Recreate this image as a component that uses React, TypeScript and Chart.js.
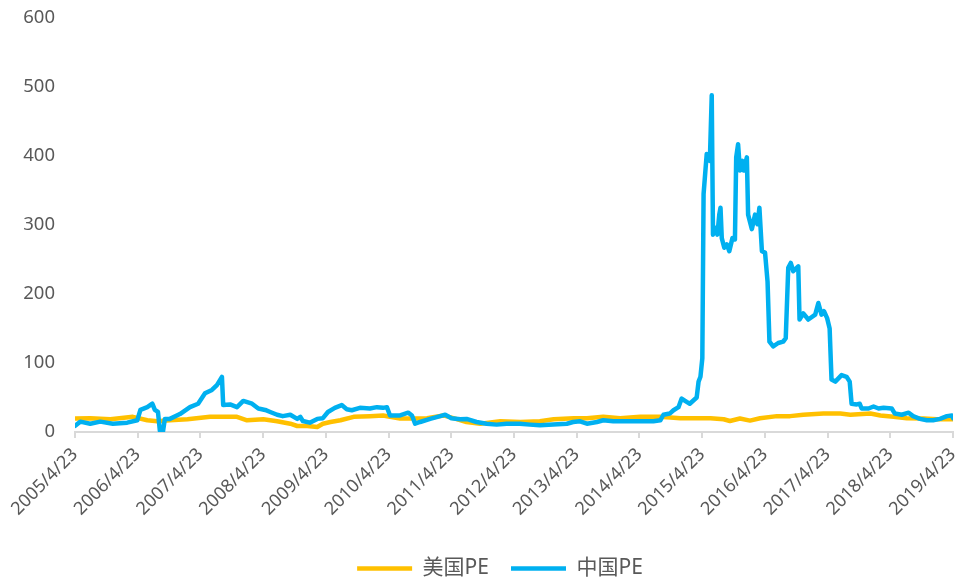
import { useEffect, useRef } from "react";
import { Chart, registerables } from "chart.js";

Chart.register(...registerables);

// 2005/4/23 expressed as a decimal year; ticks fall on every April 23rd.
const APRIL_23 = 0.307;
const tickYears = [2005, 2006, 2007, 2008, 2009, 2010, 2011, 2012, 2013, 2014, 2015, 2016, 2017, 2018, 2019];

const usLabel = "美国PE";
const usYears = [
  2005.31, 2005.55, 2005.87, 2006.23, 2006.46, 2006.62, 2006.82, 2007.10, 2007.46, 2007.89,
  2008.05, 2008.31, 2008.53, 2008.74, 2008.85, 2009.01, 2009.17, 2009.26, 2009.38, 2009.54,
  2009.75, 2010.01, 2010.22, 2010.33, 2010.49, 2010.70, 2010.92, 2011.18, 2011.34, 2011.55,
  2011.77, 2012.09, 2012.41, 2012.72, 2012.94, 2013.26, 2013.47, 2013.73, 2014.00, 2014.32,
  2014.64, 2014.96, 2015.28, 2015.44, 2015.65, 2015.75, 2015.91, 2016.07, 2016.23, 2016.50,
  2016.71, 2016.92, 2017.24, 2017.51, 2017.67, 2017.99, 2018.15, 2018.36, 2018.57, 2018.84,
  2019.05, 2019.31,
];
const usPE = [
  19.5, 20, 18.5, 22, 17, 15.5, 17, 18.5, 22, 22,
  17, 18.5, 15.5, 12, 8.7, 8.7, 7.3, 12, 14.5, 17,
  22, 23, 24, 22, 19.5, 19.5, 20, 24, 20, 14.5,
  12, 15.5, 14.5, 15.5, 18.5, 20, 20, 22, 20, 22,
  22, 20, 20, 20, 18.5, 16, 19.5, 16.5, 20, 23,
  23, 25, 26.7, 26.7, 25, 26.7, 24, 22, 20, 19.5,
  18.5, 18.5,
];

const cnLabel = "中国PE";
const cnYears = [
  2005.31, 2005.39, 2005.55, 2005.71, 2005.91, 2006.14, 2006.30, 2006.35, 2006.46, 2006.54,
  2006.58, 2006.63, 2006.66, 2006.71, 2006.74, 2006.82, 2006.98, 2007.14, 2007.27, 2007.38,
  2007.49, 2007.57, 2007.65, 2007.67, 2007.78, 2007.89, 2007.99, 2008.13, 2008.23, 2008.34,
  2008.42, 2008.53, 2008.62, 2008.74, 2008.85, 2008.90, 2008.94, 2009.05, 2009.17, 2009.26,
  2009.34, 2009.45, 2009.56, 2009.64, 2009.72, 2009.85, 2010.01, 2010.12, 2010.22, 2010.28,
  2010.33, 2010.49, 2010.62, 2010.68, 2010.73, 2010.81, 2010.97, 2011.13, 2011.21, 2011.31,
  2011.45, 2011.55, 2011.71, 2011.87, 2012.03, 2012.19, 2012.40, 2012.56, 2012.72, 2012.93,
  2013.15, 2013.25, 2013.36, 2013.47, 2013.63, 2013.73, 2013.89, 2014.10, 2014.32, 2014.53,
  2014.64, 2014.69, 2014.79, 2014.85, 2014.93, 2014.98, 2015.06, 2015.11, 2015.22, 2015.25,
  2015.28, 2015.31, 2015.33, 2015.38, 2015.43, 2015.46, 2015.48, 2015.53, 2015.55, 2015.58,
  2015.60, 2015.62, 2015.66, 2015.70, 2015.74, 2015.79, 2015.83, 2015.85, 2015.88, 2015.91,
  2015.95, 2015.97, 2016.02, 2016.04, 2016.10, 2016.15, 2016.19, 2016.22, 2016.26, 2016.31,
  2016.35, 2016.38, 2016.44, 2016.52, 2016.60, 2016.64, 2016.68, 2016.72, 2016.76, 2016.84,
  2016.86, 2016.92, 2017.00, 2017.11, 2017.16, 2017.21, 2017.25, 2017.30, 2017.34, 2017.36,
  2017.37, 2017.43, 2017.53, 2017.61, 2017.66, 2017.69, 2017.77, 2017.82, 2017.85, 2017.96,
  2018.04, 2018.12, 2018.20, 2018.33, 2018.38, 2018.49, 2018.60, 2018.67, 2018.78, 2018.89,
  2018.99, 2019.10, 2019.21, 2019.29, 2019.31,
];
const cnPE = [
  9, 15, 12, 15, 12, 13.5, 17, 32, 36, 41,
  32, 29, 2, 1, 19, 19, 26, 36, 41, 56,
  61, 68, 80, 39, 40, 36, 45, 41, 34, 32,
  29, 25, 23, 25, 19, 22, 16, 13.5, 19, 20,
  29, 35, 39, 33, 31.5, 35, 34, 36, 35, 36,
  24, 24, 28, 24, 12, 14.5, 19, 23, 25, 20,
  18.5, 19, 14.5, 12, 10.7, 12, 12, 10.7, 9.7, 10.7,
  12, 14.5, 15.5, 12, 14.5, 17, 15.5, 15.5, 15.5, 15.5,
  17, 25, 26.7, 31.5, 36, 48.5, 43.7, 41, 50, 73,
  80, 107, 345, 403, 393, 488, 286, 296, 286, 315,
  325, 281, 267, 272, 262, 281, 279, 398, 417, 379,
  393, 379, 398, 315, 294, 315, 301, 325, 262, 260,
  218, 131, 124, 129, 131, 136, 238, 245, 233, 240,
  163, 172, 163, 170, 187, 170, 175, 165, 150, 100,
  76, 73, 82.5, 80, 73, 41, 40, 41, 34, 34,
  37, 34, 35, 34, 26.7, 25, 28, 23, 19, 17,
  17, 19, 23, 24, 20,
];

const FONT = '"Noto Sans", "Noto Sans CJK SC", sans-serif';
const TEXT = "#595959";
const AXIS = "#D9D9D9";

// Nudges the bottom legend a little to the right of the canvas centre.
const legendShift = {
  id: "legendShift",
  afterLayout(chart: any) {
    if (chart.legend) chart.legend.left += 47;
  },
};

export default function App() {
  const canvasRef = useRef<HTMLCanvasElement | null>(null);

  useEffect(() => {
    const canvas = canvasRef.current;
    if (!canvas) return;
    const chart = new Chart(canvas, {
      type: "line",
      data: {
        datasets: [
          {
            label: usLabel,
            data: usYears.map((x, i) => ({ x, y: usPE[i] })),
            borderColor: "#FFC000",
            backgroundColor: "#FFC000",
            borderWidth: 4.5,
            borderCapStyle: "round",
            borderJoinStyle: "round",
            pointRadius: 0,
            order: 1,
          },
          {
            label: cnLabel,
            data: cnYears.map((x, i) => ({ x, y: cnPE[i] })),
            borderColor: "#00B0F0",
            backgroundColor: "#00B0F0",
            borderWidth: 4.5,
            borderCapStyle: "round",
            borderJoinStyle: "round",
            pointRadius: 0,
            order: 0,
          },
        ],
      },
      plugins: [legendShift],
      options: {
        animation: false,
        responsive: false,
        layout: { padding: { top: 18, right: 5, bottom: -12, left: 0 } },
        plugins: {
          tooltip: { enabled: false },
          legend: {
            position: "bottom",
            labels: {
              usePointStyle: true,
              pointStyle: "line",
              pointStyleWidth: 55,
              color: TEXT,
              padding: 22,
              font: { family: FONT, size: 21 },
              sort: (a: any, b: any) => a.datasetIndex - b.datasetIndex,
            },
          },
        },
        scales: {
          x: {
            type: "linear",
            min: tickYears[0] + APRIL_23,
            max: tickYears[tickYears.length - 1] + APRIL_23,
            afterBuildTicks: (scale: any) => {
              scale.ticks = tickYears.map((y) => ({ value: y + APRIL_23 }));
            },
            afterFit: (scale: any) => {
              scale.height = 104;
              scale.paddingLeft = 0;
              scale.paddingRight = 0;
            },
            ticks: {
              autoSkip: false,
              minRotation: 45,
              maxRotation: 45,
              color: TEXT,
              padding: 6,
              font: { family: FONT, size: 18 },
              callback: (v: any) => `${Math.round(Number(v) - APRIL_23)}/4/23`,
            },
            grid: { drawOnChartArea: false, drawTicks: true, tickLength: 6, color: AXIS, lineWidth: 2 },
            border: { display: true, color: AXIS, width: 2 },
          },
          y: {
            min: 0,
            max: 600,
            afterFit: (scale: any) => {
              scale.width = 75;
              scale.paddingTop = 0;
              scale.paddingBottom = 0;
            },
            ticks: {
              stepSize: 100,
              color: TEXT,
              padding: 20,
              font: { family: FONT, size: 18.5 },
            },
            grid: { display: false, drawTicks: false },
            border: { display: false },
          },
        },
      },
    });
    return () => chart.destroy();
  }, []);

  return (
    <div style={{ position: "fixed", left: 0, top: 0, width: 958, height: 577, background: "#fff" }}>
      <canvas ref={canvasRef} width={958} height={577} style={{ display: "block" }} />
    </div>
  );
}
